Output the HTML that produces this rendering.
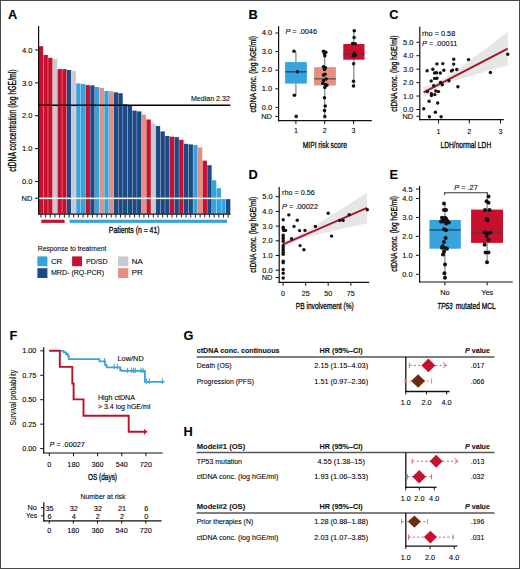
<!DOCTYPE html>
<html><head><meta charset="utf-8"><title>Figure</title>
<style>
html,body{margin:0;padding:0;background:#fff;}
body{width:520px;height:569px;overflow:hidden;}
svg{display:block;font-family:"Liberation Sans",sans-serif;}
text{stroke:#2a2a2a;stroke-width:0.1px;paint-order:stroke;}
text.t{stroke-width:0.34px;}
</style></head>
<body>
<svg width="520" height="569" viewBox="0 0 520 569">
<rect x="0" y="0" width="520" height="569" fill="#fff"/>
<text x="8.00" y="18.60" font-size="12.8" font-weight="bold" fill="#000">A</text>
<rect x="38.80" y="46.20" width="4.35" height="167.60" fill="#c8102e"/>
<rect x="43.48" y="55.00" width="4.35" height="158.80" fill="#c8102e"/>
<rect x="48.16" y="57.80" width="4.35" height="156.00" fill="#c8102e"/>
<rect x="52.84" y="58.90" width="4.35" height="154.90" fill="#c9c9d2"/>
<rect x="57.52" y="69.10" width="4.35" height="144.70" fill="#c8102e"/>
<rect x="62.20" y="69.10" width="4.35" height="144.70" fill="#c8102e"/>
<rect x="66.88" y="70.00" width="4.35" height="143.80" fill="#1c4a86"/>
<rect x="71.56" y="70.80" width="4.35" height="143.00" fill="#c9c9d2"/>
<rect x="76.24" y="83.40" width="4.35" height="130.40" fill="#37a3dc"/>
<rect x="80.92" y="84.00" width="4.35" height="129.80" fill="#37a3dc"/>
<rect x="85.60" y="85.10" width="4.35" height="128.70" fill="#c8102e"/>
<rect x="90.28" y="85.40" width="4.35" height="128.40" fill="#1c4a86"/>
<rect x="94.96" y="87.00" width="4.35" height="126.80" fill="#37a3dc"/>
<rect x="99.64" y="87.90" width="4.35" height="125.90" fill="#e58f83"/>
<rect x="104.32" y="91.00" width="4.35" height="122.80" fill="#37a3dc"/>
<rect x="109.00" y="91.20" width="4.35" height="122.60" fill="#e58f83"/>
<rect x="113.68" y="92.30" width="4.35" height="121.50" fill="#1c4a86"/>
<rect x="118.36" y="93.20" width="4.35" height="120.60" fill="#1c4a86"/>
<rect x="123.04" y="104.30" width="4.35" height="109.50" fill="#1c4a86"/>
<rect x="127.72" y="105.60" width="4.35" height="108.20" fill="#1c4a86"/>
<rect x="132.40" y="110.60" width="4.35" height="103.20" fill="#1c4a86"/>
<rect x="137.08" y="111.40" width="4.35" height="102.40" fill="#1c4a86"/>
<rect x="141.76" y="114.70" width="4.35" height="99.10" fill="#e58f83"/>
<rect x="146.44" y="119.50" width="4.35" height="94.30" fill="#c8102e"/>
<rect x="151.12" y="123.50" width="4.35" height="90.30" fill="#c9c9d2"/>
<rect x="155.80" y="126.00" width="4.35" height="87.80" fill="#1c4a86"/>
<rect x="160.48" y="131.40" width="4.35" height="82.40" fill="#1c4a86"/>
<rect x="165.16" y="136.00" width="4.35" height="77.80" fill="#1c4a86"/>
<rect x="169.84" y="136.70" width="4.35" height="77.10" fill="#c8102e"/>
<rect x="174.52" y="137.10" width="4.35" height="76.70" fill="#1c4a86"/>
<rect x="179.20" y="139.80" width="4.35" height="74.00" fill="#c8102e"/>
<rect x="183.88" y="143.80" width="4.35" height="70.00" fill="#1c4a86"/>
<rect x="188.56" y="144.40" width="4.35" height="69.40" fill="#1c4a86"/>
<rect x="193.24" y="145.00" width="4.35" height="68.80" fill="#37a3dc"/>
<rect x="197.92" y="147.50" width="4.35" height="66.30" fill="#e58f83"/>
<rect x="202.60" y="160.60" width="4.35" height="53.20" fill="#c8102e"/>
<rect x="207.28" y="165.20" width="4.35" height="48.60" fill="#1c4a86"/>
<rect x="211.96" y="180.20" width="4.35" height="33.60" fill="#37a3dc"/>
<rect x="216.64" y="188.20" width="4.35" height="25.60" fill="#37a3dc"/>
<rect x="221.32" y="198.80" width="4.35" height="15.00" fill="#37a3dc"/>
<rect x="226.00" y="198.80" width="4.35" height="15.00" fill="#1c4a86"/>
<rect x="39.20" y="197.60" width="191.50" height="1.50" fill="#fff"/>
<line x1="38.60" y1="105.20" x2="230.30" y2="105.20" stroke="#000" stroke-width="1.5"/>
<text x="229.90" y="100.60" font-size="7.2" text-anchor="end" textLength="39.00" lengthAdjust="spacingAndGlyphs">Median 2.32</text>
<line x1="38.60" y1="26.00" x2="38.60" y2="214.60" stroke="#111" stroke-width="1.2"/>
<line x1="38.00" y1="214.20" x2="230.50" y2="214.20" stroke="#111" stroke-width="1.2"/>
<line x1="40.97" y1="214.20" x2="40.97" y2="217.60" stroke="#111" stroke-width="0.9"/>
<line x1="45.65" y1="214.20" x2="45.65" y2="217.60" stroke="#111" stroke-width="0.9"/>
<line x1="50.33" y1="214.20" x2="50.33" y2="217.60" stroke="#111" stroke-width="0.9"/>
<line x1="55.01" y1="214.20" x2="55.01" y2="217.60" stroke="#111" stroke-width="0.9"/>
<line x1="59.69" y1="214.20" x2="59.69" y2="217.60" stroke="#111" stroke-width="0.9"/>
<line x1="64.38" y1="214.20" x2="64.38" y2="217.60" stroke="#111" stroke-width="0.9"/>
<line x1="69.05" y1="214.20" x2="69.05" y2="217.60" stroke="#111" stroke-width="0.9"/>
<line x1="73.73" y1="214.20" x2="73.73" y2="217.60" stroke="#111" stroke-width="0.9"/>
<line x1="78.41" y1="214.20" x2="78.41" y2="217.60" stroke="#111" stroke-width="0.9"/>
<line x1="83.09" y1="214.20" x2="83.09" y2="217.60" stroke="#111" stroke-width="0.9"/>
<line x1="87.77" y1="214.20" x2="87.77" y2="217.60" stroke="#111" stroke-width="0.9"/>
<line x1="92.45" y1="214.20" x2="92.45" y2="217.60" stroke="#111" stroke-width="0.9"/>
<line x1="97.13" y1="214.20" x2="97.13" y2="217.60" stroke="#111" stroke-width="0.9"/>
<line x1="101.81" y1="214.20" x2="101.81" y2="217.60" stroke="#111" stroke-width="0.9"/>
<line x1="106.49" y1="214.20" x2="106.49" y2="217.60" stroke="#111" stroke-width="0.9"/>
<line x1="111.17" y1="214.20" x2="111.17" y2="217.60" stroke="#111" stroke-width="0.9"/>
<line x1="115.85" y1="214.20" x2="115.85" y2="217.60" stroke="#111" stroke-width="0.9"/>
<line x1="120.53" y1="214.20" x2="120.53" y2="217.60" stroke="#111" stroke-width="0.9"/>
<line x1="125.21" y1="214.20" x2="125.21" y2="217.60" stroke="#111" stroke-width="0.9"/>
<line x1="129.89" y1="214.20" x2="129.89" y2="217.60" stroke="#111" stroke-width="0.9"/>
<line x1="134.57" y1="214.20" x2="134.57" y2="217.60" stroke="#111" stroke-width="0.9"/>
<line x1="139.25" y1="214.20" x2="139.25" y2="217.60" stroke="#111" stroke-width="0.9"/>
<line x1="143.94" y1="214.20" x2="143.94" y2="217.60" stroke="#111" stroke-width="0.9"/>
<line x1="148.62" y1="214.20" x2="148.62" y2="217.60" stroke="#111" stroke-width="0.9"/>
<line x1="153.30" y1="214.20" x2="153.30" y2="217.60" stroke="#111" stroke-width="0.9"/>
<line x1="157.98" y1="214.20" x2="157.98" y2="217.60" stroke="#111" stroke-width="0.9"/>
<line x1="162.66" y1="214.20" x2="162.66" y2="217.60" stroke="#111" stroke-width="0.9"/>
<line x1="167.33" y1="214.20" x2="167.33" y2="217.60" stroke="#111" stroke-width="0.9"/>
<line x1="172.01" y1="214.20" x2="172.01" y2="217.60" stroke="#111" stroke-width="0.9"/>
<line x1="176.69" y1="214.20" x2="176.69" y2="217.60" stroke="#111" stroke-width="0.9"/>
<line x1="181.38" y1="214.20" x2="181.38" y2="217.60" stroke="#111" stroke-width="0.9"/>
<line x1="186.06" y1="214.20" x2="186.06" y2="217.60" stroke="#111" stroke-width="0.9"/>
<line x1="190.74" y1="214.20" x2="190.74" y2="217.60" stroke="#111" stroke-width="0.9"/>
<line x1="195.42" y1="214.20" x2="195.42" y2="217.60" stroke="#111" stroke-width="0.9"/>
<line x1="200.10" y1="214.20" x2="200.10" y2="217.60" stroke="#111" stroke-width="0.9"/>
<line x1="204.77" y1="214.20" x2="204.77" y2="217.60" stroke="#111" stroke-width="0.9"/>
<line x1="209.45" y1="214.20" x2="209.45" y2="217.60" stroke="#111" stroke-width="0.9"/>
<line x1="214.13" y1="214.20" x2="214.13" y2="217.60" stroke="#111" stroke-width="0.9"/>
<line x1="218.81" y1="214.20" x2="218.81" y2="217.60" stroke="#111" stroke-width="0.9"/>
<line x1="223.50" y1="214.20" x2="223.50" y2="217.60" stroke="#111" stroke-width="0.9"/>
<line x1="228.18" y1="214.20" x2="228.18" y2="217.60" stroke="#111" stroke-width="0.9"/>
<line x1="35.00" y1="49.98" x2="38.60" y2="49.98" stroke="#111" stroke-width="1.0"/>
<text x="32.40" y="52.68" font-size="7.5" text-anchor="end">4.0</text>
<line x1="35.00" y1="82.86" x2="38.60" y2="82.86" stroke="#111" stroke-width="1.0"/>
<text x="32.40" y="85.56" font-size="7.5" text-anchor="end">3.0</text>
<line x1="35.00" y1="115.74" x2="38.60" y2="115.74" stroke="#111" stroke-width="1.0"/>
<text x="32.40" y="118.44" font-size="7.5" text-anchor="end">2.0</text>
<line x1="35.00" y1="148.62" x2="38.60" y2="148.62" stroke="#111" stroke-width="1.0"/>
<text x="32.40" y="151.32" font-size="7.5" text-anchor="end">1.0</text>
<line x1="35.00" y1="181.50" x2="38.60" y2="181.50" stroke="#111" stroke-width="1.0"/>
<text x="32.40" y="184.20" font-size="7.5" text-anchor="end">0.0</text>
<line x1="35.00" y1="198.20" x2="38.60" y2="198.20" stroke="#111" stroke-width="1.0"/>
<text x="32.40" y="200.90" font-size="7.5" text-anchor="end">ND</text>
<rect x="41.30" y="219.70" width="23.30" height="3.20" fill="#c8102e"/>
<rect x="69.50" y="219.70" width="157.50" height="3.20" fill="#37a3dc"/>
<text x="108.80" y="233.10" font-size="9.7" class="t" textLength="50.80" lengthAdjust="spacingAndGlyphs">Patients (n = 41)</text>
<text x="15.90" y="171.70" font-size="10.0" class="t" textLength="102.20" lengthAdjust="spacingAndGlyphs" transform="rotate(-90 15.90 171.70)">ctDNA concentration (log hGE/ml)</text>
<text x="37.80" y="251.40" font-size="7.6" textLength="68.50" lengthAdjust="spacingAndGlyphs">Response to treatment</text>
<rect x="37.40" y="256.40" width="10.00" height="9.80" fill="#37a3dc"/>
<rect x="37.40" y="268.20" width="10.00" height="9.80" fill="#1c4a86"/>
<rect x="72.10" y="256.40" width="9.90" height="9.80" fill="#c8102e"/>
<rect x="118.00" y="256.40" width="10.30" height="9.80" fill="#c9c9d2"/>
<rect x="118.00" y="268.20" width="10.30" height="9.80" fill="#e58f83"/>
<text x="50.90" y="263.80" font-size="7.9">CR</text>
<text x="86.00" y="263.80" font-size="7.9" textLength="21.60" lengthAdjust="spacingAndGlyphs">PD/SD</text>
<text x="131.80" y="263.80" font-size="7.9">NA</text>
<text x="50.90" y="275.40" font-size="7.9" textLength="53.20" lengthAdjust="spacingAndGlyphs">MRD- (RQ-PCR)</text>
<text x="131.80" y="275.40" font-size="7.9">PR</text>
<text x="248.60" y="18.90" font-size="12.8" font-weight="bold" fill="#000">B</text>
<line x1="278.60" y1="26.30" x2="278.60" y2="121.20" stroke="#111" stroke-width="1.2"/>
<line x1="278.00" y1="120.70" x2="371.80" y2="120.70" stroke="#111" stroke-width="1.2"/>
<line x1="275.40" y1="33.00" x2="278.60" y2="33.00" stroke="#111" stroke-width="1.0"/>
<text x="272.00" y="35.10" font-size="7.4" text-anchor="end">4.0</text>
<line x1="275.40" y1="51.60" x2="278.60" y2="51.60" stroke="#111" stroke-width="1.0"/>
<text x="272.00" y="53.70" font-size="7.4" text-anchor="end">3.0</text>
<line x1="275.40" y1="70.20" x2="278.60" y2="70.20" stroke="#111" stroke-width="1.0"/>
<text x="272.00" y="72.30" font-size="7.4" text-anchor="end">2.0</text>
<line x1="275.40" y1="88.80" x2="278.60" y2="88.80" stroke="#111" stroke-width="1.0"/>
<text x="272.00" y="90.90" font-size="7.4" text-anchor="end">1.0</text>
<line x1="275.40" y1="107.40" x2="278.60" y2="107.40" stroke="#111" stroke-width="1.0"/>
<text x="272.00" y="109.50" font-size="7.4" text-anchor="end">0.0</text>
<line x1="275.40" y1="116.40" x2="278.60" y2="116.40" stroke="#111" stroke-width="1.0"/>
<text x="271.90" y="118.80" font-size="7.4" text-anchor="end">ND</text>
<line x1="295.90" y1="120.70" x2="295.90" y2="124.00" stroke="#111" stroke-width="1.0"/>
<text x="295.90" y="133.40" font-size="7.2" text-anchor="middle">1</text>
<line x1="324.70" y1="120.70" x2="324.70" y2="124.00" stroke="#111" stroke-width="1.0"/>
<text x="324.70" y="133.40" font-size="7.2" text-anchor="middle">2</text>
<line x1="353.60" y1="120.70" x2="353.60" y2="124.00" stroke="#111" stroke-width="1.0"/>
<text x="353.60" y="133.40" font-size="7.2" text-anchor="middle">3</text>
<text x="302.80" y="147.50" font-size="9.7" class="t" textLength="44.10" lengthAdjust="spacingAndGlyphs">MIPI risk score</text>
<text x="255.80" y="112.40" font-size="9.8" class="t" textLength="76.30" lengthAdjust="spacingAndGlyphs" transform="rotate(-90 255.80 112.40)">ctDNA conc. (log hGE/ml)</text>
<text x="285.40" y="34.40" font-size="7.4" textLength="31.60" lengthAdjust="spacingAndGlyphs"><tspan font-style="italic">P</tspan> = .0046</text>
<line x1="295.90" y1="51.40" x2="295.90" y2="95.20" stroke="#8e8e8e" stroke-width="1.3"/>
<line x1="324.70" y1="51.40" x2="324.70" y2="116.40" stroke="#8e8e8e" stroke-width="1.3"/>
<line x1="353.80" y1="30.70" x2="353.80" y2="86.00" stroke="#8e8e8e" stroke-width="1.3"/>
<rect x="285.10" y="62.10" width="21.70" height="21.50" fill="#37a3dc"/>
<line x1="285.10" y1="71.80" x2="306.80" y2="71.80" stroke="#1f5a87" stroke-width="1.6"/>
<rect x="314.10" y="67.20" width="21.80" height="18.30" fill="#e58f83"/>
<line x1="314.10" y1="78.80" x2="335.90" y2="78.80" stroke="#7a5a55" stroke-width="1.6"/>
<rect x="343.30" y="44.00" width="21.20" height="15.70" fill="#c8102e"/>
<line x1="343.30" y1="54.10" x2="364.50" y2="54.10" stroke="#7a2a35" stroke-width="1.6"/>
<circle cx="294.00" cy="51.30" r="1.8" fill="#111"/>
<circle cx="297.40" cy="71.80" r="1.8" fill="#111"/>
<circle cx="294.40" cy="95.20" r="1.8" fill="#111"/>
<circle cx="296.20" cy="116.40" r="1.8" fill="#111"/>
<circle cx="323.50" cy="51.30" r="1.8" fill="#111"/>
<circle cx="325.80" cy="52.30" r="1.8" fill="#111"/>
<circle cx="324.50" cy="53.60" r="1.8" fill="#111"/>
<circle cx="324.80" cy="55.80" r="1.8" fill="#111"/>
<circle cx="323.50" cy="66.80" r="1.8" fill="#111"/>
<circle cx="325.40" cy="67.70" r="1.8" fill="#111"/>
<circle cx="324.50" cy="69.40" r="1.8" fill="#111"/>
<circle cx="323.50" cy="75.10" r="1.8" fill="#111"/>
<circle cx="325.00" cy="74.30" r="1.8" fill="#111"/>
<circle cx="326.10" cy="79.00" r="1.8" fill="#111"/>
<circle cx="323.50" cy="80.60" r="1.8" fill="#111"/>
<circle cx="322.80" cy="83.30" r="1.8" fill="#111"/>
<circle cx="325.40" cy="84.60" r="1.8" fill="#111"/>
<circle cx="326.80" cy="85.20" r="1.8" fill="#111"/>
<circle cx="324.80" cy="87.50" r="1.8" fill="#111"/>
<circle cx="324.50" cy="97.80" r="1.8" fill="#111"/>
<circle cx="325.20" cy="106.00" r="1.8" fill="#111"/>
<circle cx="324.50" cy="110.60" r="1.8" fill="#111"/>
<circle cx="324.80" cy="116.60" r="1.8" fill="#111"/>
<circle cx="354.30" cy="30.70" r="1.8" fill="#111"/>
<circle cx="354.10" cy="37.50" r="1.8" fill="#111"/>
<circle cx="352.60" cy="43.60" r="1.8" fill="#111"/>
<circle cx="355.20" cy="43.80" r="1.8" fill="#111"/>
<circle cx="354.30" cy="53.40" r="1.8" fill="#111"/>
<circle cx="355.20" cy="55.20" r="1.8" fill="#111"/>
<circle cx="353.40" cy="56.00" r="1.8" fill="#111"/>
<circle cx="353.60" cy="63.80" r="1.8" fill="#111"/>
<circle cx="353.50" cy="81.30" r="1.8" fill="#111"/>
<circle cx="353.50" cy="86.00" r="1.8" fill="#111"/>
<text x="389.20" y="18.90" font-size="12.8" font-weight="bold" fill="#000">C</text>
<line x1="419.80" y1="26.70" x2="419.80" y2="120.20" stroke="#111" stroke-width="1.2"/>
<line x1="419.20" y1="119.70" x2="503.80" y2="119.70" stroke="#111" stroke-width="1.2"/>
<line x1="416.40" y1="42.25" x2="419.80" y2="42.25" stroke="#111" stroke-width="1.0"/>
<text x="413.40" y="44.85" font-size="7.4" text-anchor="end">5.0</text>
<line x1="416.40" y1="55.70" x2="419.80" y2="55.70" stroke="#111" stroke-width="1.0"/>
<text x="413.40" y="58.30" font-size="7.4" text-anchor="end">4.0</text>
<line x1="416.40" y1="69.15" x2="419.80" y2="69.15" stroke="#111" stroke-width="1.0"/>
<text x="413.40" y="71.75" font-size="7.4" text-anchor="end">3.0</text>
<line x1="416.40" y1="82.60" x2="419.80" y2="82.60" stroke="#111" stroke-width="1.0"/>
<text x="413.40" y="85.20" font-size="7.4" text-anchor="end">2.0</text>
<line x1="416.40" y1="96.05" x2="419.80" y2="96.05" stroke="#111" stroke-width="1.0"/>
<text x="413.40" y="98.65" font-size="7.4" text-anchor="end">1.0</text>
<line x1="416.40" y1="109.50" x2="419.80" y2="109.50" stroke="#111" stroke-width="1.0"/>
<text x="413.40" y="112.10" font-size="7.4" text-anchor="end">0.0</text>
<line x1="416.40" y1="116.30" x2="419.80" y2="116.30" stroke="#111" stroke-width="1.0"/>
<text x="413.20" y="118.90" font-size="7.4" text-anchor="end">ND</text>
<line x1="438.50" y1="119.70" x2="438.50" y2="123.40" stroke="#111" stroke-width="1.0"/>
<text x="438.50" y="133.60" font-size="7.2" text-anchor="middle">1</text>
<line x1="469.30" y1="119.70" x2="469.30" y2="123.40" stroke="#111" stroke-width="1.0"/>
<text x="469.30" y="133.60" font-size="7.2" text-anchor="middle">2</text>
<line x1="500.50" y1="119.70" x2="500.50" y2="123.40" stroke="#111" stroke-width="1.0"/>
<text x="500.50" y="133.60" font-size="7.2" text-anchor="middle">3</text>
<text x="440.50" y="147.60" font-size="9.7" class="t" textLength="50.70" lengthAdjust="spacingAndGlyphs">LDH/normal LDH</text>
<text x="396.80" y="111.80" font-size="9.8" class="t" textLength="76.40" lengthAdjust="spacingAndGlyphs" transform="rotate(-90 396.80 111.80)">ctDNA conc. (log hGE/ml)</text>
<text x="422.00" y="35.50" font-size="7.4" textLength="33.30" lengthAdjust="spacingAndGlyphs">rho = 0.58</text>
<text x="422.00" y="46.20" font-size="7.4" textLength="35.30" lengthAdjust="spacingAndGlyphs"><tspan font-style="italic">P</tspan> = .00011</text>
<polygon points="423.60,87.05 425.71,86.38 427.81,85.68 429.92,84.96 432.02,84.20 434.12,83.39 436.23,82.52 438.34,81.58 440.44,80.56 442.55,79.44 444.65,78.24 446.75,76.96 448.86,75.61 450.97,74.21 453.07,72.77 455.18,71.30 457.28,69.80 459.38,68.28 461.49,66.74 463.60,65.19 465.70,63.64 467.81,62.07 469.91,60.50 472.01,58.93 474.12,57.35 476.23,55.76 478.33,54.18 480.44,52.59 482.54,51.00 484.65,49.40 486.75,47.81 488.86,46.21 490.96,44.61 493.06,43.01 495.17,41.41 497.27,39.81 499.38,38.21 501.49,36.60 503.59,35.00 505.70,33.40 507.80,31.79 507.80,65.41 505.70,65.99 503.59,66.57 501.49,67.15 499.38,67.73 497.27,68.31 495.17,68.90 493.06,69.48 490.96,70.07 488.86,70.65 486.75,71.24 484.65,71.83 482.54,72.42 480.44,73.02 478.33,73.61 476.23,74.21 474.12,74.81 472.01,75.42 469.91,76.03 467.81,76.64 465.70,77.26 463.60,77.89 461.49,78.53 459.38,79.18 457.28,79.84 455.18,80.53 453.07,81.24 450.97,81.98 448.86,82.77 446.75,83.60 444.65,84.51 442.55,85.49 440.44,86.56 438.34,87.72 436.23,88.97 434.12,90.29 432.02,91.66 429.92,93.09 427.81,94.55 425.71,96.04 423.60,97.55" fill="#e6e6e6"/>
<line x1="423.60" y1="92.30" x2="507.80" y2="48.60" stroke="#a8152e" stroke-width="2.0"/>
<circle cx="453.70" cy="59.20" r="1.7" fill="#111"/>
<circle cx="436.90" cy="63.90" r="1.7" fill="#111"/>
<circle cx="442.80" cy="63.60" r="1.7" fill="#111"/>
<circle cx="453.70" cy="64.10" r="1.7" fill="#111"/>
<circle cx="427.10" cy="70.80" r="1.7" fill="#111"/>
<circle cx="432.80" cy="69.30" r="1.7" fill="#111"/>
<circle cx="443.80" cy="70.20" r="1.7" fill="#111"/>
<circle cx="451.40" cy="71.00" r="1.7" fill="#111"/>
<circle cx="452.60" cy="70.10" r="1.7" fill="#111"/>
<circle cx="456.80" cy="69.50" r="1.7" fill="#111"/>
<circle cx="434.60" cy="73.00" r="1.7" fill="#111"/>
<circle cx="436.60" cy="72.70" r="1.7" fill="#111"/>
<circle cx="440.30" cy="73.00" r="1.7" fill="#111"/>
<circle cx="434.60" cy="78.40" r="1.7" fill="#111"/>
<circle cx="436.90" cy="78.20" r="1.7" fill="#111"/>
<circle cx="431.20" cy="81.00" r="1.7" fill="#111"/>
<circle cx="440.60" cy="82.40" r="1.7" fill="#111"/>
<circle cx="442.30" cy="84.70" r="1.7" fill="#111"/>
<circle cx="448.90" cy="80.70" r="1.7" fill="#111"/>
<circle cx="433.70" cy="85.60" r="1.7" fill="#111"/>
<circle cx="457.90" cy="86.80" r="1.7" fill="#111"/>
<circle cx="427.40" cy="91.60" r="1.7" fill="#111"/>
<circle cx="435.80" cy="91.00" r="1.7" fill="#111"/>
<circle cx="438.50" cy="91.60" r="1.7" fill="#111"/>
<circle cx="431.40" cy="93.80" r="1.7" fill="#111"/>
<circle cx="431.40" cy="95.50" r="1.7" fill="#111"/>
<circle cx="434.80" cy="94.60" r="1.7" fill="#111"/>
<circle cx="429.10" cy="101.30" r="1.7" fill="#111"/>
<circle cx="437.70" cy="103.00" r="1.7" fill="#111"/>
<circle cx="423.70" cy="108.70" r="1.7" fill="#111"/>
<circle cx="435.40" cy="112.30" r="1.7" fill="#111"/>
<circle cx="429.40" cy="116.70" r="1.7" fill="#111"/>
<circle cx="441.10" cy="116.70" r="1.7" fill="#111"/>
<circle cx="468.50" cy="59.60" r="1.7" fill="#111"/>
<circle cx="490.40" cy="72.50" r="1.7" fill="#111"/>
<circle cx="507.70" cy="54.20" r="1.7" fill="#111"/>
<text x="248.40" y="178.50" font-size="12.8" font-weight="bold" fill="#000">D</text>
<line x1="279.20" y1="187.00" x2="279.20" y2="283.00" stroke="#111" stroke-width="1.2"/>
<line x1="278.60" y1="282.40" x2="369.20" y2="282.40" stroke="#111" stroke-width="1.2"/>
<line x1="275.60" y1="196.70" x2="279.20" y2="196.70" stroke="#111" stroke-width="1.0"/>
<text x="272.60" y="199.30" font-size="7.4" text-anchor="end">5.0</text>
<line x1="275.60" y1="211.40" x2="279.20" y2="211.40" stroke="#111" stroke-width="1.0"/>
<text x="272.60" y="214.00" font-size="7.4" text-anchor="end">4.0</text>
<line x1="275.60" y1="226.10" x2="279.20" y2="226.10" stroke="#111" stroke-width="1.0"/>
<text x="272.60" y="228.70" font-size="7.4" text-anchor="end">3.0</text>
<line x1="275.60" y1="240.80" x2="279.20" y2="240.80" stroke="#111" stroke-width="1.0"/>
<text x="272.60" y="243.40" font-size="7.4" text-anchor="end">2.0</text>
<line x1="275.60" y1="255.50" x2="279.20" y2="255.50" stroke="#111" stroke-width="1.0"/>
<text x="272.60" y="258.10" font-size="7.4" text-anchor="end">1.0</text>
<line x1="275.60" y1="270.20" x2="279.20" y2="270.20" stroke="#111" stroke-width="1.0"/>
<text x="272.60" y="272.80" font-size="7.4" text-anchor="end">0.0</text>
<line x1="275.60" y1="277.60" x2="279.20" y2="277.60" stroke="#111" stroke-width="1.0"/>
<text x="272.40" y="280.20" font-size="7.4" text-anchor="end">ND</text>
<line x1="283.10" y1="282.40" x2="283.10" y2="285.80" stroke="#111" stroke-width="1.0"/>
<text x="283.10" y="296.20" font-size="7.2" text-anchor="middle">0</text>
<line x1="305.70" y1="282.40" x2="305.70" y2="285.80" stroke="#111" stroke-width="1.0"/>
<text x="305.70" y="296.20" font-size="7.2" text-anchor="middle">25</text>
<line x1="328.20" y1="282.40" x2="328.20" y2="285.80" stroke="#111" stroke-width="1.0"/>
<text x="328.20" y="296.20" font-size="7.2" text-anchor="middle">50</text>
<line x1="350.80" y1="282.40" x2="350.80" y2="285.80" stroke="#111" stroke-width="1.0"/>
<text x="350.80" y="296.20" font-size="7.2" text-anchor="middle">75</text>
<text x="295.80" y="309.20" font-size="9.7" class="t" textLength="58.00" lengthAdjust="spacingAndGlyphs">PB involvement (%)</text>
<text x="255.80" y="272.80" font-size="9.8" class="t" textLength="76.00" lengthAdjust="spacingAndGlyphs" transform="rotate(-90 255.80 272.80)">ctDNA conc. (log hGE/ml)</text>
<text x="282.10" y="194.80" font-size="7.4" textLength="32.70" lengthAdjust="spacingAndGlyphs">rho = 0.56</text>
<text x="282.10" y="209.00" font-size="7.4" textLength="35.90" lengthAdjust="spacingAndGlyphs"><tspan font-style="italic">P</tspan> = .00022</text>
<polygon points="282.50,240.81 284.61,240.23 286.73,239.61 288.84,238.96 290.95,238.25 293.06,237.48 295.18,236.64 297.29,235.71 299.40,234.70 301.51,233.62 303.62,232.48 305.74,231.29 307.85,230.07 309.96,228.81 312.07,227.53 314.19,226.24 316.30,224.94 318.41,223.62 320.52,222.30 322.64,220.97 324.75,219.63 326.86,218.29 328.98,216.95 331.09,215.61 333.20,214.26 335.31,212.91 337.43,211.56 339.54,210.20 341.65,208.85 343.76,207.49 345.88,206.14 347.99,204.78 350.10,203.42 352.21,202.06 354.32,200.70 356.44,199.34 358.55,197.98 360.66,196.61 362.77,195.25 364.89,193.89 367.00,192.53 367.00,223.27 364.89,223.75 362.77,224.22 360.66,224.69 358.55,225.16 356.44,225.64 354.32,226.11 352.21,226.59 350.10,227.06 347.99,227.54 345.88,228.01 343.76,228.49 341.65,228.97 339.54,229.45 337.43,229.93 335.31,230.42 333.20,230.90 331.09,231.39 328.98,231.88 326.86,232.37 324.75,232.87 322.64,233.37 320.52,233.87 318.41,234.38 316.30,234.90 314.19,235.43 312.07,235.98 309.96,236.53 307.85,237.11 305.74,237.72 303.62,238.37 301.51,239.06 299.40,239.82 297.29,240.64 295.18,241.55 293.06,242.54 290.95,243.61 288.84,244.74 286.73,245.92 284.61,247.14 282.50,248.39" fill="#e6e6e6"/>
<line x1="282.50" y1="244.60" x2="367.00" y2="207.90" stroke="#a8152e" stroke-width="2.0"/>
<circle cx="283.20" cy="219.80" r="1.7" fill="#111"/>
<circle cx="283.20" cy="227.30" r="1.7" fill="#111"/>
<circle cx="283.20" cy="228.70" r="1.7" fill="#111"/>
<circle cx="283.60" cy="230.40" r="1.7" fill="#111"/>
<circle cx="285.60" cy="230.40" r="1.7" fill="#111"/>
<circle cx="283.20" cy="235.30" r="1.7" fill="#111"/>
<circle cx="283.20" cy="237.10" r="1.7" fill="#111"/>
<circle cx="283.20" cy="238.80" r="1.7" fill="#111"/>
<circle cx="283.20" cy="241.30" r="1.7" fill="#111"/>
<circle cx="283.20" cy="245.80" r="1.7" fill="#111"/>
<circle cx="283.20" cy="248.00" r="1.7" fill="#111"/>
<circle cx="283.20" cy="250.10" r="1.7" fill="#111"/>
<circle cx="283.20" cy="252.20" r="1.7" fill="#111"/>
<circle cx="283.20" cy="254.30" r="1.7" fill="#111"/>
<circle cx="283.20" cy="261.30" r="1.7" fill="#111"/>
<circle cx="283.20" cy="262.70" r="1.7" fill="#111"/>
<circle cx="283.20" cy="269.50" r="1.7" fill="#111"/>
<circle cx="283.20" cy="273.30" r="1.7" fill="#111"/>
<circle cx="283.20" cy="278.00" r="1.7" fill="#111"/>
<circle cx="288.80" cy="214.90" r="1.7" fill="#111"/>
<circle cx="297.30" cy="220.20" r="1.7" fill="#111"/>
<circle cx="294.00" cy="226.40" r="1.7" fill="#111"/>
<circle cx="299.60" cy="230.60" r="1.7" fill="#111"/>
<circle cx="305.00" cy="230.40" r="1.7" fill="#111"/>
<circle cx="291.60" cy="238.80" r="1.7" fill="#111"/>
<circle cx="300.10" cy="245.60" r="1.7" fill="#111"/>
<circle cx="303.90" cy="249.80" r="1.7" fill="#111"/>
<circle cx="315.40" cy="226.40" r="1.7" fill="#111"/>
<circle cx="328.20" cy="213.30" r="1.7" fill="#111"/>
<circle cx="339.70" cy="220.40" r="1.7" fill="#111"/>
<circle cx="343.10" cy="220.40" r="1.7" fill="#111"/>
<circle cx="349.20" cy="214.70" r="1.7" fill="#111"/>
<circle cx="367.30" cy="209.70" r="1.7" fill="#111"/>
<circle cx="331.60" cy="236.10" r="1.7" fill="#111"/>
<text x="389.60" y="178.50" font-size="12.8" font-weight="bold" fill="#000">E</text>
<line x1="419.60" y1="186.00" x2="419.60" y2="282.60" stroke="#111" stroke-width="1.2"/>
<line x1="419.00" y1="282.00" x2="512.80" y2="282.00" stroke="#111" stroke-width="1.2"/>
<line x1="416.00" y1="189.03" x2="419.60" y2="189.03" stroke="#111" stroke-width="1.0"/>
<text x="412.50" y="191.63" font-size="7.4" text-anchor="end">4.5</text>
<line x1="416.00" y1="198.50" x2="419.60" y2="198.50" stroke="#111" stroke-width="1.0"/>
<text x="412.50" y="201.10" font-size="7.4" text-anchor="end">4.0</text>
<line x1="416.00" y1="217.45" x2="419.60" y2="217.45" stroke="#111" stroke-width="1.0"/>
<text x="412.50" y="220.05" font-size="7.4" text-anchor="end">3.0</text>
<line x1="416.00" y1="236.40" x2="419.60" y2="236.40" stroke="#111" stroke-width="1.0"/>
<text x="412.50" y="239.00" font-size="7.4" text-anchor="end">2.0</text>
<line x1="416.00" y1="255.35" x2="419.60" y2="255.35" stroke="#111" stroke-width="1.0"/>
<text x="412.50" y="257.95" font-size="7.4" text-anchor="end">1.0</text>
<line x1="416.00" y1="274.30" x2="419.60" y2="274.30" stroke="#111" stroke-width="1.0"/>
<text x="412.50" y="276.90" font-size="7.4" text-anchor="end">0.0</text>
<line x1="444.90" y1="282.00" x2="444.90" y2="285.40" stroke="#111" stroke-width="1.0"/>
<text x="444.90" y="295.40" font-size="7.4" text-anchor="middle">No</text>
<line x1="487.20" y1="282.00" x2="487.20" y2="285.40" stroke="#111" stroke-width="1.0"/>
<text x="487.20" y="295.40" font-size="7.4" text-anchor="middle">Yes</text>
<text x="437.30" y="309.20" font-size="9.7" class="t" font-style="italic" textLength="15.40" lengthAdjust="spacingAndGlyphs">TP53</text>
<text x="455.80" y="309.20" font-size="9.7" class="t" textLength="40.00" lengthAdjust="spacingAndGlyphs">mutated MCL</text>
<text x="396.80" y="271.80" font-size="9.8" class="t" textLength="75.80" lengthAdjust="spacingAndGlyphs" transform="rotate(-90 396.80 271.80)">ctDNA conc. (log hGE/ml)</text>
<polyline points="444.6,195 444.6,192.7 487.4,192.7 487.4,195" fill="none" stroke="#333" stroke-width="1.1"/>
<text x="466.00" y="189.80" font-size="7.4" text-anchor="middle"><tspan font-style="italic">P</tspan> = .27</text>
<line x1="444.90" y1="203.40" x2="444.90" y2="278.30" stroke="#8e8e8e" stroke-width="1.3"/>
<line x1="487.20" y1="196.40" x2="487.20" y2="262.20" stroke="#8e8e8e" stroke-width="1.3"/>
<rect x="429.50" y="220.00" width="31.30" height="28.70" fill="#37a3dc"/>
<line x1="429.50" y1="229.90" x2="460.80" y2="229.90" stroke="#1f5a87" stroke-width="1.6"/>
<rect x="471.10" y="209.60" width="31.90" height="33.30" fill="#c8102e"/>
<line x1="471.10" y1="232.60" x2="503.00" y2="232.60" stroke="#7a2a35" stroke-width="1.6"/>
<circle cx="444.00" cy="203.60" r="2.0" fill="#111"/>
<circle cx="444.00" cy="210.00" r="2.0" fill="#111"/>
<circle cx="446.00" cy="210.00" r="2.0" fill="#111"/>
<circle cx="442.00" cy="217.70" r="2.0" fill="#111"/>
<circle cx="445.00" cy="217.70" r="2.0" fill="#111"/>
<circle cx="446.00" cy="218.70" r="2.0" fill="#111"/>
<circle cx="441.00" cy="221.60" r="2.0" fill="#111"/>
<circle cx="443.00" cy="221.60" r="2.0" fill="#111"/>
<circle cx="447.00" cy="220.60" r="2.0" fill="#111"/>
<circle cx="448.80" cy="222.60" r="2.0" fill="#111"/>
<circle cx="444.00" cy="229.30" r="2.0" fill="#111"/>
<circle cx="446.00" cy="230.30" r="2.0" fill="#111"/>
<circle cx="445.60" cy="238.00" r="2.0" fill="#111"/>
<circle cx="444.00" cy="241.90" r="2.0" fill="#111"/>
<circle cx="442.00" cy="247.70" r="2.0" fill="#111"/>
<circle cx="445.00" cy="248.10" r="2.0" fill="#111"/>
<circle cx="447.00" cy="248.70" r="2.0" fill="#111"/>
<circle cx="444.00" cy="251.60" r="2.0" fill="#111"/>
<circle cx="443.00" cy="254.50" r="2.0" fill="#111"/>
<circle cx="445.00" cy="264.50" r="2.0" fill="#111"/>
<circle cx="444.40" cy="273.20" r="2.0" fill="#111"/>
<circle cx="445.00" cy="277.70" r="2.0" fill="#111"/>
<circle cx="443.60" cy="219.60" r="2.0" fill="#111"/>
<circle cx="446.20" cy="223.40" r="2.0" fill="#111"/>
<circle cx="442.60" cy="246.20" r="2.0" fill="#111"/>
<circle cx="488.50" cy="196.40" r="2.0" fill="#111"/>
<circle cx="486.60" cy="201.30" r="2.0" fill="#111"/>
<circle cx="488.50" cy="202.80" r="2.0" fill="#111"/>
<circle cx="485.00" cy="210.00" r="2.0" fill="#111"/>
<circle cx="489.50" cy="210.00" r="2.0" fill="#111"/>
<circle cx="486.60" cy="218.70" r="2.0" fill="#111"/>
<circle cx="487.50" cy="220.20" r="2.0" fill="#111"/>
<circle cx="484.60" cy="232.20" r="2.0" fill="#111"/>
<circle cx="487.50" cy="233.20" r="2.0" fill="#111"/>
<circle cx="490.40" cy="232.60" r="2.0" fill="#111"/>
<circle cx="486.60" cy="236.10" r="2.0" fill="#111"/>
<circle cx="488.50" cy="240.00" r="2.0" fill="#111"/>
<circle cx="484.60" cy="244.80" r="2.0" fill="#111"/>
<circle cx="485.60" cy="252.50" r="2.0" fill="#111"/>
<circle cx="488.50" cy="252.50" r="2.0" fill="#111"/>
<circle cx="487.00" cy="262.20" r="2.0" fill="#111"/>
<text x="9.40" y="339.70" font-size="12.8" font-weight="bold" fill="#000">F</text>
<line x1="43.70" y1="347.30" x2="43.70" y2="453.60" stroke="#111" stroke-width="1.2"/>
<line x1="43.10" y1="453.00" x2="162.70" y2="453.00" stroke="#111" stroke-width="1.2"/>
<line x1="40.20" y1="350.80" x2="43.70" y2="350.80" stroke="#111" stroke-width="1.0"/>
<text x="36.40" y="353.40" font-size="7.3" text-anchor="end">1.00</text>
<line x1="40.20" y1="375.25" x2="43.70" y2="375.25" stroke="#111" stroke-width="1.0"/>
<text x="36.40" y="377.85" font-size="7.3" text-anchor="end">0.75</text>
<line x1="40.20" y1="399.70" x2="43.70" y2="399.70" stroke="#111" stroke-width="1.0"/>
<text x="36.40" y="402.30" font-size="7.3" text-anchor="end">0.50</text>
<line x1="40.20" y1="424.15" x2="43.70" y2="424.15" stroke="#111" stroke-width="1.0"/>
<text x="36.40" y="426.75" font-size="7.3" text-anchor="end">0.25</text>
<line x1="40.20" y1="448.60" x2="43.70" y2="448.60" stroke="#111" stroke-width="1.0"/>
<text x="36.40" y="451.20" font-size="7.3" text-anchor="end">0.00</text>
<line x1="49.30" y1="453.00" x2="49.30" y2="456.20" stroke="#111" stroke-width="1.0"/>
<text x="49.30" y="466.90" font-size="7.3" text-anchor="middle">0</text>
<line x1="73.45" y1="453.00" x2="73.45" y2="456.20" stroke="#111" stroke-width="1.0"/>
<text x="73.45" y="466.90" font-size="7.3" text-anchor="middle">180</text>
<line x1="97.60" y1="453.00" x2="97.60" y2="456.20" stroke="#111" stroke-width="1.0"/>
<text x="97.60" y="466.90" font-size="7.3" text-anchor="middle">360</text>
<line x1="121.75" y1="453.00" x2="121.75" y2="456.20" stroke="#111" stroke-width="1.0"/>
<text x="121.75" y="466.90" font-size="7.3" text-anchor="middle">540</text>
<line x1="145.90" y1="453.00" x2="145.90" y2="456.20" stroke="#111" stroke-width="1.0"/>
<text x="145.90" y="466.90" font-size="7.3" text-anchor="middle">720</text>
<text x="88.00" y="480.00" font-size="9.2" class="t" textLength="29.00" lengthAdjust="spacingAndGlyphs">OS (days)</text>
<text x="16.50" y="425.40" font-size="9.3" textLength="55.50" lengthAdjust="spacingAndGlyphs" transform="rotate(-90 16.50 425.40)">Survival probability</text>
<text x="49.50" y="446.60" font-size="7.3" textLength="35.30" lengthAdjust="spacingAndGlyphs"><tspan font-style="italic">P</tspan> = .00027</text>
<text x="117.50" y="361.00" font-size="7.3" textLength="26.20" lengthAdjust="spacingAndGlyphs">Low/ND</text>
<text x="97.90" y="399.90" font-size="7.3" textLength="37.10" lengthAdjust="spacingAndGlyphs">High ctDNA</text>
<text x="97.90" y="409.00" font-size="7.3" textLength="52.50" lengthAdjust="spacingAndGlyphs">&gt; 3.4 log hGE/ml</text>
<polyline points="59.8,350.8 63.7,350.8 63.7,352.4 66.0,352.4 66.0,354.0 67.7,354.0 67.7,355.8 68.8,355.8 68.8,359.1 99.4,359.1 99.4,361.4 105.2,361.4 105.2,365.0 106.6,365.0 106.6,367.3 120.2,367.3 120.2,369.8 121.3,369.8 121.3,370.9 144.9,370.9 144.9,381.8 163.3,381.8" fill="none" stroke="#39a3db" stroke-width="1.8"/>
<line x1="104.50" y1="358.20" x2="104.50" y2="363.40" stroke="#39a3db" stroke-width="1.1"/>
<line x1="114.10" y1="364.10" x2="114.10" y2="369.30" stroke="#39a3db" stroke-width="1.1"/>
<line x1="117.50" y1="364.10" x2="117.50" y2="369.30" stroke="#39a3db" stroke-width="1.1"/>
<line x1="127.60" y1="367.70" x2="127.60" y2="372.90" stroke="#39a3db" stroke-width="1.1"/>
<line x1="131.60" y1="367.70" x2="131.60" y2="372.90" stroke="#39a3db" stroke-width="1.1"/>
<line x1="133.60" y1="367.70" x2="133.60" y2="372.90" stroke="#39a3db" stroke-width="1.1"/>
<line x1="135.30" y1="367.70" x2="135.30" y2="372.90" stroke="#39a3db" stroke-width="1.1"/>
<line x1="141.00" y1="367.70" x2="141.00" y2="372.90" stroke="#39a3db" stroke-width="1.1"/>
<line x1="143.10" y1="367.70" x2="143.10" y2="372.90" stroke="#39a3db" stroke-width="1.1"/>
<line x1="146.50" y1="378.60" x2="146.50" y2="383.80" stroke="#39a3db" stroke-width="1.1"/>
<line x1="149.30" y1="378.60" x2="149.30" y2="383.80" stroke="#39a3db" stroke-width="1.1"/>
<line x1="162.50" y1="378.60" x2="162.50" y2="383.80" stroke="#39a3db" stroke-width="1.1"/>
<line x1="160.20" y1="381.60" x2="164.60" y2="381.60" stroke="#39a3db" stroke-width="1.2"/>
<polyline points="49.2,350.8 59.8,350.8 59.8,366.9 72.3,366.9 72.3,383.5 73.6,383.5 73.6,399.4 83.5,399.4 83.5,415.7 128.7,415.7 128.7,431.8 147.2,431.8" fill="none" stroke="#b8112e" stroke-width="1.9"/>
<line x1="144.60" y1="429.20" x2="144.60" y2="434.40" stroke="#b8112e" stroke-width="1.1"/>
<text x="80.50" y="498.80" font-size="7.3" textLength="45.00" lengthAdjust="spacingAndGlyphs">Number at risk</text>
<line x1="43.80" y1="502.30" x2="43.80" y2="521.40" stroke="#111" stroke-width="1.2"/>
<line x1="43.20" y1="520.80" x2="161.60" y2="520.80" stroke="#111" stroke-width="1.2"/>
<line x1="41.00" y1="507.70" x2="43.80" y2="507.70" stroke="#111" stroke-width="1.0"/>
<line x1="41.00" y1="515.80" x2="43.80" y2="515.80" stroke="#111" stroke-width="1.0"/>
<text x="36.90" y="510.30" font-size="7.3" text-anchor="end">No</text>
<text x="37.00" y="518.40" font-size="7.3" text-anchor="end" textLength="11.00" lengthAdjust="spacingAndGlyphs">Yes</text>
<text x="49.60" y="511.20" font-size="7.3" text-anchor="middle">35</text>
<text x="49.60" y="519.40" font-size="7.3" text-anchor="middle">6</text>
<line x1="49.20" y1="520.80" x2="49.20" y2="523.60" stroke="#111" stroke-width="1.0"/>
<text x="49.20" y="533.30" font-size="7.3" text-anchor="middle">0</text>
<text x="73.75" y="511.20" font-size="7.3" text-anchor="middle">32</text>
<text x="73.75" y="519.40" font-size="7.3" text-anchor="middle">4</text>
<line x1="73.35" y1="520.80" x2="73.35" y2="523.60" stroke="#111" stroke-width="1.0"/>
<text x="73.35" y="533.30" font-size="7.3" text-anchor="middle">180</text>
<text x="97.90" y="511.20" font-size="7.3" text-anchor="middle">32</text>
<text x="97.90" y="519.40" font-size="7.3" text-anchor="middle">2</text>
<line x1="97.50" y1="520.80" x2="97.50" y2="523.60" stroke="#111" stroke-width="1.0"/>
<text x="97.50" y="533.30" font-size="7.3" text-anchor="middle">360</text>
<text x="122.05" y="511.20" font-size="7.3" text-anchor="middle">21</text>
<text x="122.05" y="519.40" font-size="7.3" text-anchor="middle">2</text>
<line x1="121.65" y1="520.80" x2="121.65" y2="523.60" stroke="#111" stroke-width="1.0"/>
<text x="121.65" y="533.30" font-size="7.3" text-anchor="middle">540</text>
<text x="146.20" y="511.20" font-size="7.3" text-anchor="middle">6</text>
<text x="146.20" y="519.40" font-size="7.3" text-anchor="middle">0</text>
<line x1="145.80" y1="520.80" x2="145.80" y2="523.60" stroke="#111" stroke-width="1.0"/>
<text x="145.80" y="533.30" font-size="7.3" text-anchor="middle">720</text>
<text x="183.40" y="339.70" font-size="12.8" font-weight="bold" fill="#000">G</text>
<text x="183.40" y="435.70" font-size="12.8" font-weight="bold" fill="#000">H</text>
<text x="196.70" y="353.10" font-size="7.4" font-weight="bold" textLength="82.90" lengthAdjust="spacingAndGlyphs" fill="#111">ctDNA conc. continuous</text>
<text x="319.60" y="353.10" font-size="7.4" font-weight="bold" textLength="43.20" lengthAdjust="spacingAndGlyphs" fill="#111">HR (95%–CI)</text>
<text x="464.90" y="353.10" font-size="7.4" font-weight="bold" textLength="25.10" lengthAdjust="spacingAndGlyphs" fill="#111"><tspan font-style="italic">P</tspan> value</text>
<line x1="196.50" y1="357.00" x2="494.50" y2="357.00" stroke="#555" stroke-width="1.4"/>
<text x="196.70" y="367.90" font-size="7.2" textLength="35.00" lengthAdjust="spacingAndGlyphs">Death (OS)</text>
<text x="341.20" y="367.90" font-size="7.2" text-anchor="middle" textLength="53.80" lengthAdjust="spacingAndGlyphs">2.15 (1.15–4.03)</text>
<text x="477.50" y="367.90" font-size="7.2" text-anchor="middle" textLength="13.60" lengthAdjust="spacingAndGlyphs">.017</text>
<text x="196.70" y="383.50" font-size="7.2" textLength="57.30" lengthAdjust="spacingAndGlyphs">Progression (PFS)</text>
<text x="341.20" y="383.50" font-size="7.2" text-anchor="middle" textLength="53.80" lengthAdjust="spacingAndGlyphs">1.51 (0.97–2.36)</text>
<text x="477.50" y="383.50" font-size="7.2" text-anchor="middle" textLength="13.60" lengthAdjust="spacingAndGlyphs">.066</text>
<line x1="405.80" y1="357.00" x2="405.80" y2="392.10" stroke="#111" stroke-width="1.3"/>
<line x1="405.20" y1="391.50" x2="449.60" y2="391.50" stroke="#111" stroke-width="1.3"/>
<line x1="405.80" y1="391.50" x2="405.80" y2="394.50" stroke="#111" stroke-width="1.0"/>
<text x="405.80" y="405.30" font-size="7.3" text-anchor="middle">1.0</text>
<line x1="426.50" y1="391.50" x2="426.50" y2="394.50" stroke="#111" stroke-width="1.0"/>
<text x="426.50" y="405.30" font-size="7.3" text-anchor="middle">2.0</text>
<line x1="446.60" y1="391.50" x2="446.60" y2="394.50" stroke="#111" stroke-width="1.0"/>
<text x="446.60" y="405.30" font-size="7.3" text-anchor="middle">4.0</text>
<line x1="409.30" y1="365.40" x2="446.50" y2="365.40" stroke="#d46a85" stroke-width="1.0" stroke-dasharray="2.4 1.9"/>
<line x1="409.30" y1="362.80" x2="409.30" y2="368.00" stroke="#d46a85" stroke-width="1.0"/>
<polyline points="443.00,362.60 446.50,365.40 443.00,368.20" fill="none" stroke="#d46a85" stroke-width="1.0"/>
<polygon points="421.40,365.40 428.40,358.50 435.40,365.40 428.40,372.30" fill="#c8102e"/>
<line x1="405.00" y1="381.00" x2="431.60" y2="381.00" stroke="#d98a74" stroke-width="1.0" stroke-dasharray="2.4 1.9"/>
<line x1="405.00" y1="378.40" x2="405.00" y2="383.60" stroke="#d98a74" stroke-width="1.0"/>
<line x1="431.60" y1="378.40" x2="431.60" y2="383.60" stroke="#d98a74" stroke-width="1.0"/>
<polygon points="411.10,381.00 418.10,374.20 425.10,381.00 418.10,387.80" fill="#6d2c10"/>
<text x="196.70" y="449.10" font-size="7.4" font-weight="bold" textLength="48.50" lengthAdjust="spacingAndGlyphs" fill="#111">Model#1 (OS)</text>
<text x="319.60" y="449.10" font-size="7.4" font-weight="bold" textLength="43.20" lengthAdjust="spacingAndGlyphs" fill="#111">HR (95%–CI)</text>
<text x="464.90" y="449.10" font-size="7.4" font-weight="bold" textLength="25.10" lengthAdjust="spacingAndGlyphs" fill="#111"><tspan font-style="italic">P</tspan> value</text>
<line x1="196.50" y1="452.50" x2="494.50" y2="452.50" stroke="#555" stroke-width="1.4"/>
<text x="196.70" y="463.70" font-size="7.2" textLength="45.30" lengthAdjust="spacingAndGlyphs">TP53 mutation</text>
<text x="341.20" y="463.70" font-size="7.2" text-anchor="middle" textLength="47.30" lengthAdjust="spacingAndGlyphs">4.55 (1.38–15)</text>
<text x="477.50" y="463.70" font-size="7.2" text-anchor="middle" textLength="13.60" lengthAdjust="spacingAndGlyphs">.013</text>
<text x="196.70" y="479.20" font-size="7.2" textLength="81.60" lengthAdjust="spacingAndGlyphs">ctDNA conc. (log hGE/ml)</text>
<text x="341.20" y="479.20" font-size="7.2" text-anchor="middle" textLength="53.80" lengthAdjust="spacingAndGlyphs">1.93 (1.06–3.53)</text>
<text x="477.50" y="479.20" font-size="7.2" text-anchor="middle" textLength="13.60" lengthAdjust="spacingAndGlyphs">.032</text>
<line x1="405.80" y1="452.50" x2="405.80" y2="487.90" stroke="#111" stroke-width="1.3"/>
<line x1="405.20" y1="487.30" x2="436.60" y2="487.30" stroke="#111" stroke-width="1.3"/>
<line x1="405.80" y1="487.30" x2="405.80" y2="490.30" stroke="#111" stroke-width="1.0"/>
<text x="405.80" y="501.10" font-size="7.3" text-anchor="middle">1.0</text>
<line x1="419.40" y1="487.30" x2="419.40" y2="490.30" stroke="#111" stroke-width="1.0"/>
<text x="419.40" y="501.10" font-size="7.3" text-anchor="middle">2.0</text>
<line x1="434.20" y1="487.30" x2="434.20" y2="490.30" stroke="#111" stroke-width="1.0"/>
<text x="434.20" y="501.10" font-size="7.3" text-anchor="middle">4.0</text>
<line x1="412.20" y1="461.20" x2="458.10" y2="461.20" stroke="#d46a85" stroke-width="1.0" stroke-dasharray="2.4 1.9"/>
<line x1="412.20" y1="458.60" x2="412.20" y2="463.80" stroke="#d46a85" stroke-width="1.0"/>
<polyline points="454.60,458.40 458.10,461.20 454.60,464.00" fill="none" stroke="#d46a85" stroke-width="1.0"/>
<polygon points="429.70,461.20 436.20,454.70 442.70,461.20 436.20,467.70" fill="#c8102e"/>
<line x1="407.40" y1="476.70" x2="431.50" y2="476.70" stroke="#d46a85" stroke-width="1.0" stroke-dasharray="2.4 1.9"/>
<line x1="407.40" y1="474.10" x2="407.40" y2="479.30" stroke="#d46a85" stroke-width="1.0"/>
<line x1="431.50" y1="474.10" x2="431.50" y2="479.30" stroke="#d46a85" stroke-width="1.0"/>
<polygon points="412.40,476.70 419.20,470.00 426.00,476.70 419.20,483.40" fill="#c8102e"/>
<text x="196.70" y="509.20" font-size="7.4" font-weight="bold" textLength="48.50" lengthAdjust="spacingAndGlyphs" fill="#111">Model#2 (OS)</text>
<text x="319.60" y="509.20" font-size="7.4" font-weight="bold" textLength="43.20" lengthAdjust="spacingAndGlyphs" fill="#111">HR (95%–CI)</text>
<text x="464.90" y="509.20" font-size="7.4" font-weight="bold" textLength="25.10" lengthAdjust="spacingAndGlyphs" fill="#111"><tspan font-style="italic">P</tspan> value</text>
<line x1="196.50" y1="513.00" x2="494.50" y2="513.00" stroke="#555" stroke-width="1.4"/>
<text x="196.70" y="524.30" font-size="7.2" textLength="56.50" lengthAdjust="spacingAndGlyphs">Prior therapies (N)</text>
<text x="341.20" y="524.30" font-size="7.2" text-anchor="middle" textLength="53.80" lengthAdjust="spacingAndGlyphs">1.28 (0.88–1.88)</text>
<text x="477.50" y="524.30" font-size="7.2" text-anchor="middle" textLength="13.60" lengthAdjust="spacingAndGlyphs">.196</text>
<text x="196.70" y="539.90" font-size="7.2" textLength="81.60" lengthAdjust="spacingAndGlyphs">ctDNA conc. (log hGE/ml)</text>
<text x="341.20" y="539.90" font-size="7.2" text-anchor="middle" textLength="53.80" lengthAdjust="spacingAndGlyphs">2.03 (1.07–3.85)</text>
<text x="477.50" y="539.90" font-size="7.2" text-anchor="middle" textLength="13.60" lengthAdjust="spacingAndGlyphs">.031</text>
<line x1="405.80" y1="513.00" x2="405.80" y2="546.70" stroke="#111" stroke-width="1.3"/>
<line x1="405.20" y1="546.10" x2="457.40" y2="546.10" stroke="#111" stroke-width="1.3"/>
<line x1="405.80" y1="546.10" x2="405.80" y2="549.10" stroke="#111" stroke-width="1.0"/>
<text x="405.80" y="559.90" font-size="7.3" text-anchor="middle">1.0</text>
<line x1="430.10" y1="546.10" x2="430.10" y2="549.10" stroke="#111" stroke-width="1.0"/>
<text x="430.10" y="559.90" font-size="7.3" text-anchor="middle">2.0</text>
<line x1="454.20" y1="546.10" x2="454.20" y2="549.10" stroke="#111" stroke-width="1.0"/>
<text x="454.20" y="559.90" font-size="7.3" text-anchor="middle">4.0</text>
<line x1="401.60" y1="521.60" x2="427.60" y2="521.60" stroke="#d98a74" stroke-width="1.0" stroke-dasharray="2.4 1.9"/>
<line x1="401.60" y1="519.00" x2="401.60" y2="524.20" stroke="#d98a74" stroke-width="1.0"/>
<line x1="427.60" y1="519.00" x2="427.60" y2="524.20" stroke="#d98a74" stroke-width="1.0"/>
<polygon points="408.00,521.60 414.40,515.40 420.80,521.60 414.40,527.80" fill="#6d2c10"/>
<line x1="408.50" y1="537.10" x2="453.20" y2="537.10" stroke="#d46a85" stroke-width="1.0" stroke-dasharray="2.4 1.9"/>
<line x1="408.50" y1="534.50" x2="408.50" y2="539.70" stroke="#d46a85" stroke-width="1.0"/>
<line x1="453.20" y1="534.50" x2="453.20" y2="539.70" stroke="#d46a85" stroke-width="1.0"/>
<polygon points="423.90,537.10 430.40,530.70 436.90,537.10 430.40,543.50" fill="#c8102e"/>
<rect x="0.5" y="0.5" width="519" height="568" fill="none" stroke="#4a4a4a" stroke-width="1"/>
</svg>
</body></html>
